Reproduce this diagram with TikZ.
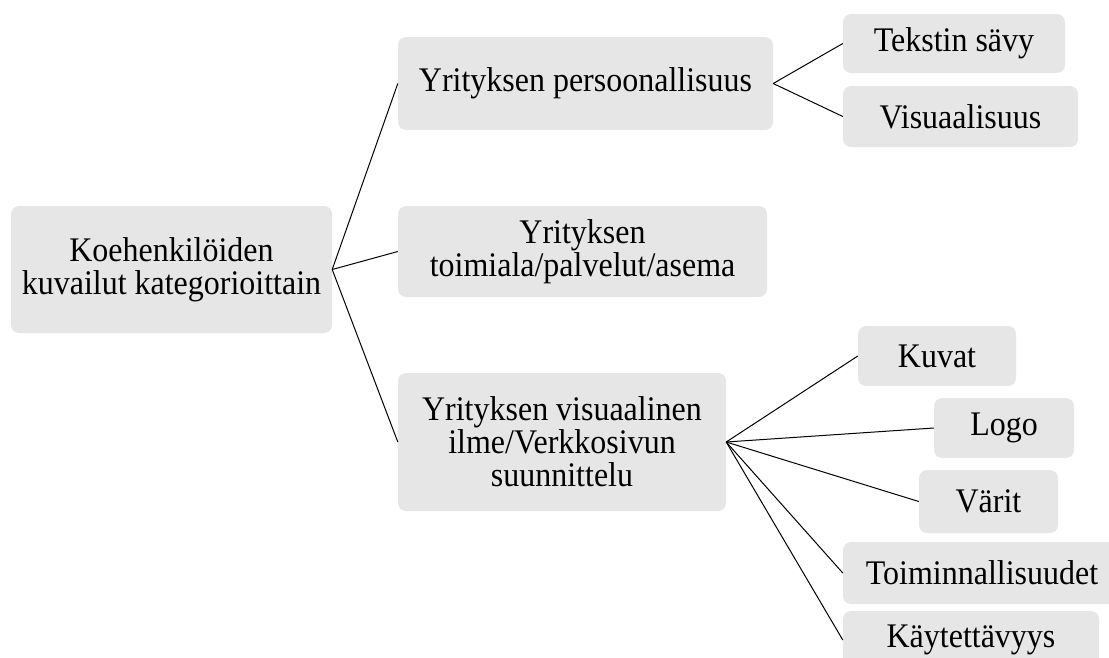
\documentclass[tikz,border=0pt]{standalone}
\usepackage{fontspec}
\setmainfont[FakeStretch=0.927]{Liberation Serif}
\definecolor{boxgray}{HTML}{E6E6E6}
\tikzset{
  cbox/.style={rectangle, rounded corners=8pt, fill=boxgray, align=center, inner sep=0pt,
    font=\fontsize{34.5}{33}\selectfont},
  conn/.style={draw=black, line width=1pt}
}
\begin{document}
\begin{tikzpicture}[x=1pt,y=-1pt]
\useasboundingbox (0,0) rectangle (1109,657);
\clip (0,0) rectangle (1109,657);
\node[cbox, minimum width=321pt, minimum height=127pt] (root) at (171.5,269.5) {Koehenkilöiden\\kuvailut kategorioittain};
\node[cbox, minimum width=375pt, minimum height=93pt] (pers) at (585.5,83.5) {Yrityksen persoonallisuus};
\node[cbox, minimum width=369pt, minimum height=91pt] (toim) at (582.5,251.5) {Yrityksen\\toimiala/palvelut/asema};
\node[cbox, minimum width=328pt, minimum height=138pt] (vis) at (562,442) {Yrityksen visuaalinen\\ilme/Verkkosivun\\suunnittelu};
\node[cbox, minimum width=222pt, minimum height=59pt] (teks) at (954,43.5) {Tekstin sävy};
\node[cbox, minimum width=235pt, minimum height=61pt] (visu) at (960.5,116.5) {Visuaalisuus};
\node[cbox, minimum width=158pt, minimum height=60pt] (kuvat) at (937,356) {Kuvat};
\node[cbox, minimum width=140pt, minimum height=60pt] (logo) at (1004,428) {Logo};
\node[cbox, minimum width=139pt, minimum height=63pt] (varit) at (988.5,501.5) {Värit};
\node[cbox, minimum width=278pt, minimum height=62pt] (toimi) at (982,573) {Toiminnallisuudet};
\node[cbox, minimum width=256pt, minimum height=58pt] (kayt) at (971,640) {Käytettävyys};
\draw[conn] (root.east) -- (pers.west);
\draw[conn] (root.east) -- (toim.west);
\draw[conn] (root.east) -- (vis.west);
\draw[conn] (pers.east) -- (teks.west);
\draw[conn] (pers.east) -- (visu.west);
\draw[conn] (vis.east) -- (kuvat.west);
\draw[conn] (vis.east) -- (logo.west);
\draw[conn] (vis.east) -- (varit.west);
\draw[conn] (vis.east) -- (toimi.west);
\draw[conn] (vis.east) -- (kayt.west);
\end{tikzpicture}
\end{document}
